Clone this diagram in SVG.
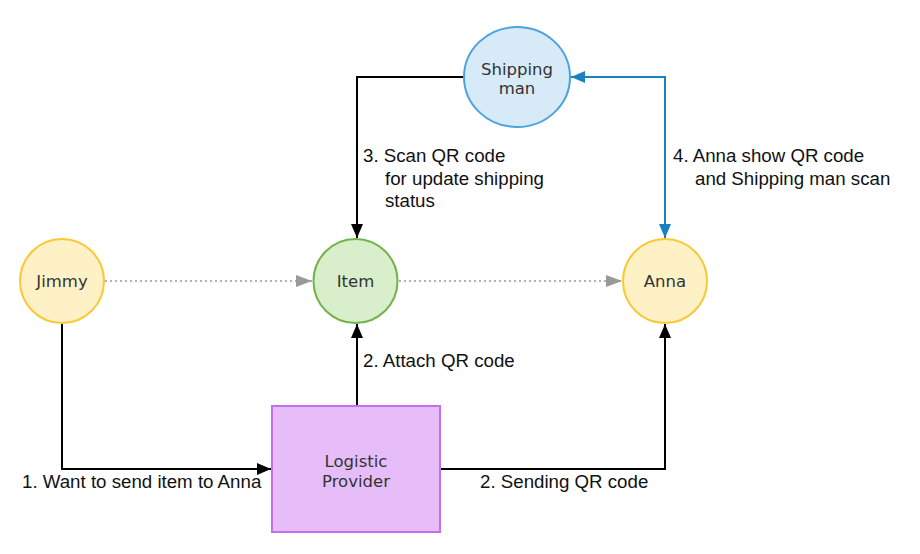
<svg xmlns="http://www.w3.org/2000/svg" width="920" height="554" viewBox="0 0 920 554">
<style>
.lbl{font-family:"DejaVu Sans",Verdana,sans-serif;font-size:16.5px;fill:#333;text-anchor:middle}
.elbl{font-family:"Liberation Sans",Arial,sans-serif;font-size:18.7px;fill:#111}
.ln{fill:none;stroke:#000;stroke-width:2}
.blue{fill:none;stroke:#1a7fc3;stroke-width:2}
.dot{fill:none;stroke:#999;stroke-width:1.5;stroke-dasharray:2 3}
</style>
<defs>
<marker id="ab" viewBox="0 0 14 12" refX="14" refY="6" markerWidth="14" markerHeight="12" markerUnits="userSpaceOnUse" orient="auto"><path d="M0,0 L14,6 L0,12 Z" fill="#000"/></marker>
<marker id="abl" viewBox="0 0 14 12" refX="14" refY="6" markerWidth="14" markerHeight="12" markerUnits="userSpaceOnUse" orient="auto-start-reverse"><path d="M0,0 L14,6 L0,12 Z" fill="#1a7fc3"/></marker>
<marker id="ag" viewBox="0 0 16 12" refX="16" refY="6" markerWidth="16" markerHeight="12" markerUnits="userSpaceOnUse" orient="auto"><path d="M0,0 L16,6 L0,12 Z" fill="#999"/></marker>
</defs>
<rect width="920" height="554" fill="#fff"/>
<g id="connectors">
<path class="ln" d="M464,77 H357 V238" marker-end="url(#ab)"/>
<path class="blue" d="M665,238 V77 H571" marker-start="url(#abl)" marker-end="url(#abl)"/>
<path class="dot" d="M105,281 H312" marker-end="url(#ag)"/>
<path class="dot" d="M399,281 H622" marker-end="url(#ag)"/>
<path class="ln" d="M62,324 V469 H271" marker-end="url(#ab)"/>
<path class="ln" d="M357,405 V324" marker-end="url(#ab)"/>
<path class="ln" d="M441,469 H665 V324" marker-end="url(#ab)"/>
<text class="elbl" x="363" y="162">3. Scan QR code</text>
<text class="elbl" x="385" y="185">for update shipping</text>
<text class="elbl" x="385" y="207">status</text>
<text class="elbl" x="673" y="162">4. Anna show QR code</text>
<text class="elbl" x="695" y="185">and Shipping man scan</text>
<text class="elbl" x="363" y="367">2. Attach QR code</text>
<text class="elbl" x="22" y="488">1. Want to send item to Anna</text>
<text class="elbl" x="480" y="488">2. Sending QR code</text>
</g>
<g id="shipping">
<ellipse cx="517" cy="77" rx="53" ry="50" fill="#d6eaf8" stroke="#4aa3df" stroke-width="2"/>
<text class="lbl" x="517" y="75">Shipping</text>
<text class="lbl" x="517" y="94">man</text>
</g>
<g id="jimmy">
<circle cx="62" cy="281" r="42" fill="#fff1c6" stroke="#f9c935" stroke-width="2"/>
<text class="lbl" x="62" y="287">Jimmy</text>
</g>
<g id="item">
<circle cx="355.5" cy="281" r="42" fill="#d9eecb" stroke="#72b34a" stroke-width="2"/>
<text class="lbl" x="355.5" y="287">Item</text>
</g>
<g id="anna">
<circle cx="665" cy="281" r="42" fill="#fff1c6" stroke="#f9c935" stroke-width="2"/>
<text class="lbl" x="665" y="287">Anna</text>
</g>
<g id="logistic">
<rect x="272" y="406" width="168" height="126" fill="#e6bdf8" stroke="#c56ef0" stroke-width="2"/>
<text class="lbl" x="356" y="467">Logistic</text>
<text class="lbl" x="356" y="487">Provider</text>
</g>
</svg>
